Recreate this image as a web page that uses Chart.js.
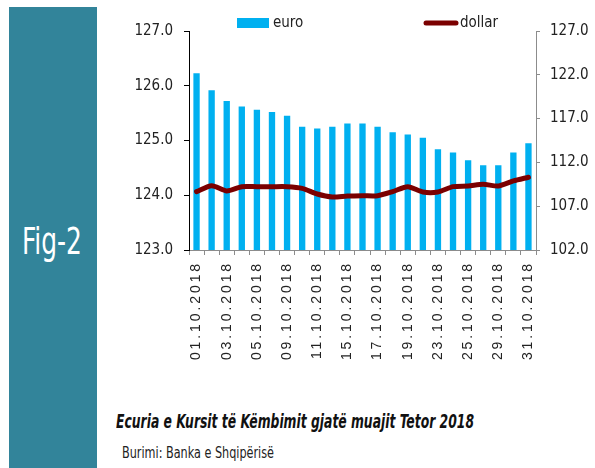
<!DOCTYPE html>
<html>
<head>
<meta charset="utf-8">
<script src="https://cdn.jsdelivr.net/npm/chart.js@4.4.1/dist/chart.umd.min.js"></script>
<style>
  html, body { margin: 0; padding: 0; background: #fff; }
  body { width: 595px; height: 468px; position: relative; overflow: hidden; }
  #panel { position: absolute; left: 9px; top: 7px; width: 88px; height: 461px; background: #32849A; }
  .txt { position: absolute; white-space: nowrap; line-height: 1; transform-origin: 0 0; font-family: 'Liberation Sans Narrow', 'Arial Narrow', 'DejaVu Sans Condensed', sans-serif; }
  #fig { color: #fff; font-size: 38px; left: 22px; top: 222px; }
  #cap { color: #111; font-size: 19px; font-weight: bold; font-style: italic; left: 116px; top: 412px; }
  #src { color: #222; font-size: 16px; left: 122px; top: 445px; }
  #wrap { position: absolute; left: 0; top: 0; width: 595px; height: 468px; }
</style>
</head>
<body>
<div id="panel"></div>
<div id="fig" class="txt">Fig-2</div>
<div id="cap" class="txt">Ecuria e Kursit të Këmbimit gjatë muajit Tetor 2018</div>
<div id="src" class="txt">Burimi: Banka e Shqipërisë</div>
<div id="wrap"><canvas id="c" width="595" height="468"></canvas></div>
<script>
// ---- data ----
const dates = ['01.10.2018','02.10.2018','03.10.2018','04.10.2018','05.10.2018','08.10.2018','09.10.2018','10.10.2018','11.10.2018','12.10.2018','15.10.2018','16.10.2018','17.10.2018','18.10.2018','19.10.2018','22.10.2018','23.10.2018','24.10.2018','25.10.2018','26.10.2018','29.10.2018','30.10.2018','31.10.2018'];
const euro = [126.23,125.92,125.72,125.62,125.56,125.52,125.45,125.25,125.22,125.25,125.31,125.31,125.25,125.15,125.11,125.05,124.84,124.78,124.64,124.55,124.55,124.78,124.95];
const dollar = [108.66,109.34,108.74,109.23,109.23,109.23,109.23,109.04,108.39,108.05,108.16,108.20,108.20,108.66,109.23,108.62,108.62,109.23,109.30,109.50,109.30,109.88,110.30];
const seriesNames = ['euro','dollar'];
const leftTicks = [123,124,125,126,127];
const rightTicks = [102,107,112,117,122,127];

// ---- text fitting for the html captions ----
function fit(id, w) {
  const el = document.getElementById(id);
  el.style.display = 'inline-block';
  const r = el.getBoundingClientRect().width;
  el.style.transform = 'scaleX(' + (w / r) + ')';
}
fit('fig', 60);
fit('cap', 358);
fit('src', 152);

const NARROW = "'Liberation Sans Narrow', 'Arial Narrow', 'DejaVu Sans Condensed', sans-serif";
const BLUE = '#00B0F0';
const RED = '#7B0000';

class SpacedCategory extends Chart.CategoryScale {
  drawLabels(area) {
    const ctx = this.ctx;
    ctx.save();
    ctx.letterSpacing = '2.9px';
    super.drawLabels(area);
    ctx.restore();
  }
}
SpacedCategory.id = 'spacedCategory';
SpacedCategory.defaults = Chart.CategoryScale.defaults;
Chart.register(SpacedCategory);

const legendPlugin = {
  id: 'fixedLegend',
  afterDraw(chart) {
    const ctx = chart.ctx;
    const ds = chart.data.datasets;
    const barDs = ds.find(d => d.type === 'bar');
    const lineDs = ds.find(d => d.type === 'line');
    ctx.save();
    ctx.font = "15px " + NARROW;
    ctx.textBaseline = 'middle';
    ctx.fillStyle = barDs.backgroundColor;
    ctx.fillRect(237, 18, 32, 10);
    ctx.fillStyle = '#222';
    ctx.fillText(barDs.label, 273, 23);
    ctx.strokeStyle = lineDs.borderColor;
    ctx.lineWidth = 5;
    ctx.lineCap = 'round';
    ctx.beginPath();
    ctx.moveTo(426, 23);
    ctx.lineTo(456, 23);
    ctx.stroke();
    ctx.fillText(lineDs.label, 460, 23);
    ctx.restore();
  }
};

new Chart(document.getElementById('c'), {
  type: 'bar',
  data: {
    labels: dates,
    datasets: [
      {
        type: 'line',
        label: seriesNames[1],
        data: dollar,
        yAxisID: 'y1',
        borderColor: RED,
        backgroundColor: RED,
        borderWidth: 5,
        pointRadius: 0,
        tension: 0.25,
        borderJoinStyle: 'round',
        borderCapStyle: 'round',
        order: 0
      },
      {
        type: 'bar',
        label: seriesNames[0],
        data: euro,
        yAxisID: 'y',
        backgroundColor: BLUE,
        borderWidth: 0,
        categoryPercentage: 1.0,
        barPercentage: 0.42,
        order: 1
      }
    ]
  },
  options: {
    responsive: false,
    animation: false,
    events: [],
    layout: { padding: { left: 129, right: 4, top: 31, bottom: 98 } },
    plugins: { legend: { display: false }, tooltip: { enabled: false } },
    scales: {
      x: {
        type: 'spacedCategory',
        offset: true,
        grid: { display: true, offset: true, drawOnChartArea: false, color: '#8c8c8c', tickLength: 5, tickColor: '#8c8c8c' },
        border: { display: true, color: '#8c8c8c', width: 1 },
        ticks: {
          autoSkip: false,
          minRotation: 90,
          maxRotation: 90,
          padding: 6,
          color: '#222',
          font: { family: "'Liberation Sans', Arial, sans-serif", size: 14 },
          callback: function (v, i) { return i % 2 === 0 ? this.getLabelForValue(v) : ''; }
        },
        afterFit: (s) => { s.height = 120; }
      },
      y: {
        position: 'left',
        min: leftTicks[0],
        max: leftTicks[leftTicks.length - 1],
        afterBuildTicks: (s) => { s.ticks = leftTicks.map(v => ({ value: v })); },
        grid: { display: true, drawOnChartArea: false, color: '#000', tickLength: 5, tickColor: '#000' },
        border: { display: true, color: '#000', width: 1 },
        ticks: {
          padding: 11,
          color: '#222',
          font: { family: NARROW, size: 15 },
          callback: (v) => Number(v).toFixed(1)
        },
        afterFit: (s) => { s.width = 60; }
      },
      y1: {
        position: 'right',
        min: rightTicks[0],
        max: rightTicks[rightTicks.length - 1],
        afterBuildTicks: (s) => { s.ticks = rightTicks.map(v => ({ value: v })); },
        grid: { display: true, drawOnChartArea: false, color: '#8c8c8c', tickLength: 4, tickColor: '#8c8c8c' },
        border: { display: true, color: '#8c8c8c', width: 1 },
        ticks: {
          padding: 10,
          color: '#222',
          font: { family: NARROW, size: 15 },
          callback: (v) => Number(v).toFixed(1)
        },
        afterFit: (s) => { s.width = 55; }
      }
    }
  },
  plugins: [legendPlugin]
});
</script>
</body>
</html>
